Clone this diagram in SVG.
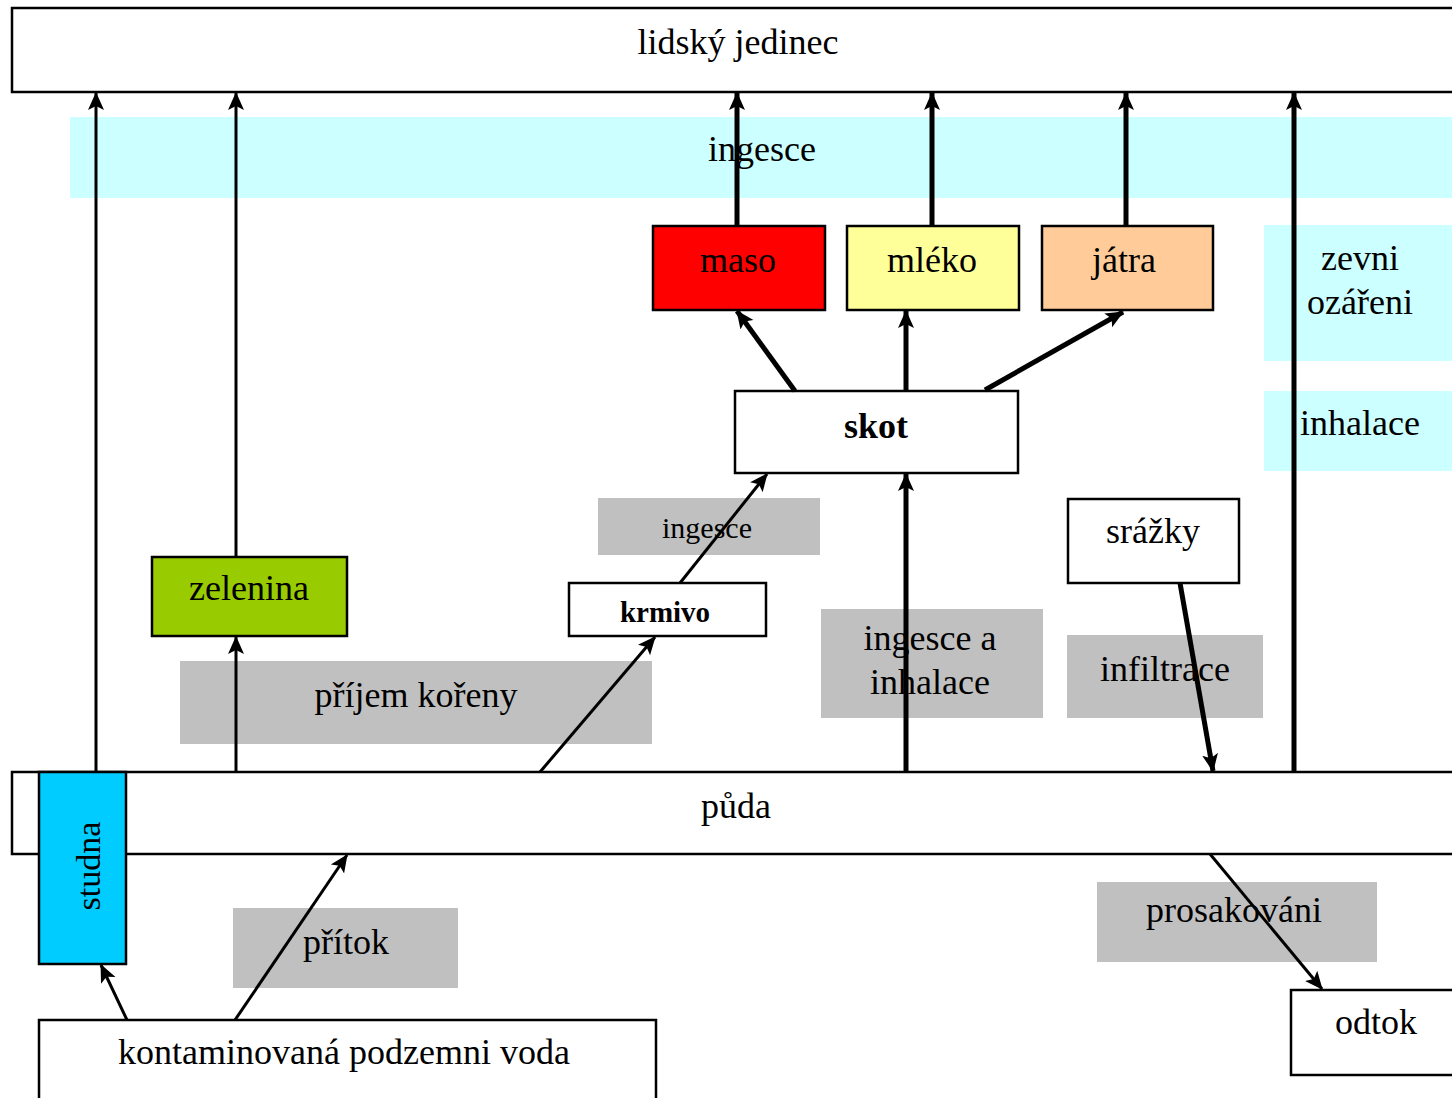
<svg xmlns="http://www.w3.org/2000/svg" width="1452" height="1098" viewBox="0 0 1452 1098">
<style>
text{font-family:"Liberation Serif","Times New Roman",serif;font-size:36px;fill:#000;text-anchor:middle}
.box{stroke:#000;stroke-width:2.5}
.band{fill:#CCFFFF}
.lbl{fill:#C0C0C0}
.c{fill:none;stroke:#000}
.t{stroke-width:3}
.T{stroke-width:5}
.b{font-weight:bold}
</style>
<defs>
<marker id="ah" markerUnits="userSpaceOnUse" viewBox="0 0 18 18" refX="17" refY="9" markerWidth="18" markerHeight="18" orient="auto">
<path d="M0,1 L18,9 L0,17 L4,9 Z" fill="#000"/>
</marker>
</defs>
<rect width="1452" height="1098" fill="#fff"/>

<g id="bands">
<rect class="band" x="70" y="117" width="1390" height="81"/>
<text x="762" y="161">ingesce</text>
<rect class="band" x="1264" y="225" width="196" height="136"/>
<text x="1360" y="270">zevni</text>
<text x="1360" y="314">ozářeni</text>
<rect class="band" x="1264" y="391" width="196" height="80"/>
<text x="1360" y="435">inhalace</text>
</g>

<g id="labels">
<rect class="lbl" x="598" y="498" width="222" height="57"/>
<text x="707" y="538" style="font-size:30px">ingesce</text>
<rect class="lbl" x="180" y="661" width="472" height="83"/>
<text x="416" y="707">příjem kořeny</text>
<rect class="lbl" x="821" y="609" width="222" height="109"/>
<text x="930" y="650">ingesce a</text>
<text x="930" y="694">inhalace</text>
<rect class="lbl" x="1067" y="635" width="196" height="83"/>
<text x="1165" y="681">infiltrace</text>
<rect class="lbl" x="233" y="908" width="225" height="80"/>
<text x="346" y="954">přítok</text>
<rect class="lbl" x="1097" y="882" width="280" height="80"/>
<text x="1234" y="922">prosakováni</text>
</g>

<g id="lidsky-jedinec">
<rect class="box" x="12" y="8" width="1450" height="84" fill="#fff"/>
<text x="738" y="54">lidský jedinec</text>
</g>
<g id="maso">
<rect class="box" x="653" y="226" width="172" height="84" fill="#FF0000"/>
<text x="738" y="272">maso</text>
</g>
<g id="mleko">
<rect class="box" x="847" y="226" width="172" height="84" fill="#FFFF99"/>
<text x="932" y="272">mléko</text>
</g>
<g id="jatra">
<rect class="box" x="1042" y="226" width="171" height="84" fill="#FFCC99"/>
<text x="1124" y="272">játra</text>
</g>
<g id="skot">
<rect class="box" x="735" y="391" width="283" height="82" fill="#fff"/>
<text class="b" x="876" y="438">skot</text>
</g>
<g id="krmivo">
<rect class="box" x="569" y="583" width="197" height="53" fill="#fff"/>
<text class="b" x="665" y="622" style="font-size:29px">krmivo</text>
</g>
<g id="zelenina">
<rect class="box" x="152" y="557" width="195" height="79" fill="#99CC00"/>
<text x="249" y="600">zelenina</text>
</g>
<g id="srazky">
<rect class="box" x="1068" y="499" width="171" height="84" fill="#fff"/>
<text x="1153" y="543">srážky</text>
</g>
<g id="puda">
<rect class="box" x="12" y="772" width="1450" height="82" fill="#fff"/>
<text x="736" y="818">půda</text>
</g>
<g id="studna">
<rect class="box" x="39" y="772" width="87" height="192" fill="#00CCFF"/>
<text x="0" y="0" transform="translate(100,866) rotate(-90)" style="font-size:34px">studna</text>
</g>
<g id="kontaminovana-podzemni-voda">
<rect class="box" x="39" y="1020" width="617" height="90" fill="#fff"/>
<text x="344" y="1064">kontaminovaná podzemni voda</text>
</g>
<g id="odtok">
<rect class="box" x="1291" y="990" width="170" height="85" fill="#fff"/>
<text x="1376" y="1034">odtok</text>
</g>

<g id="connectors">
<line class="c t" x1="96" y1="772" x2="96" y2="93" marker-end="url(#ah)"/>
<line class="c t" x1="236" y1="557" x2="236" y2="93" marker-end="url(#ah)"/>
<line class="c T" x1="737" y1="226" x2="737" y2="93" marker-end="url(#ah)"/>
<line class="c T" x1="932" y1="226" x2="932" y2="93" marker-end="url(#ah)"/>
<line class="c T" x1="1126" y1="226" x2="1126" y2="93" marker-end="url(#ah)"/>
<line class="c T" x1="1294" y1="772" x2="1294" y2="93" marker-end="url(#ah)"/>
<line class="c T" x1="795" y1="391" x2="737" y2="311" marker-end="url(#ah)"/>
<line class="c T" x1="906" y1="391" x2="906" y2="311" marker-end="url(#ah)"/>
<line class="c T" x1="985" y1="390" x2="1123" y2="312" marker-end="url(#ah)"/>
<line class="c t" x1="680" y1="583" x2="767" y2="474" marker-end="url(#ah)"/>
<line class="c t" x1="540" y1="772" x2="655" y2="637" marker-end="url(#ah)"/>
<line class="c t" x1="236" y1="772" x2="236" y2="637" marker-end="url(#ah)"/>
<line class="c T" x1="906" y1="772" x2="906" y2="474" marker-end="url(#ah)"/>
<line class="c T" x1="1180" y1="583" x2="1213" y2="771" marker-end="url(#ah)"/>
<line class="c t" x1="235" y1="1020" x2="347" y2="855" marker-end="url(#ah)"/>
<line class="c t" x1="127" y1="1020" x2="101" y2="965" marker-end="url(#ah)"/>
<line class="c t" x1="1210" y1="854" x2="1322" y2="989" marker-end="url(#ah)"/>
</g>
</svg>
